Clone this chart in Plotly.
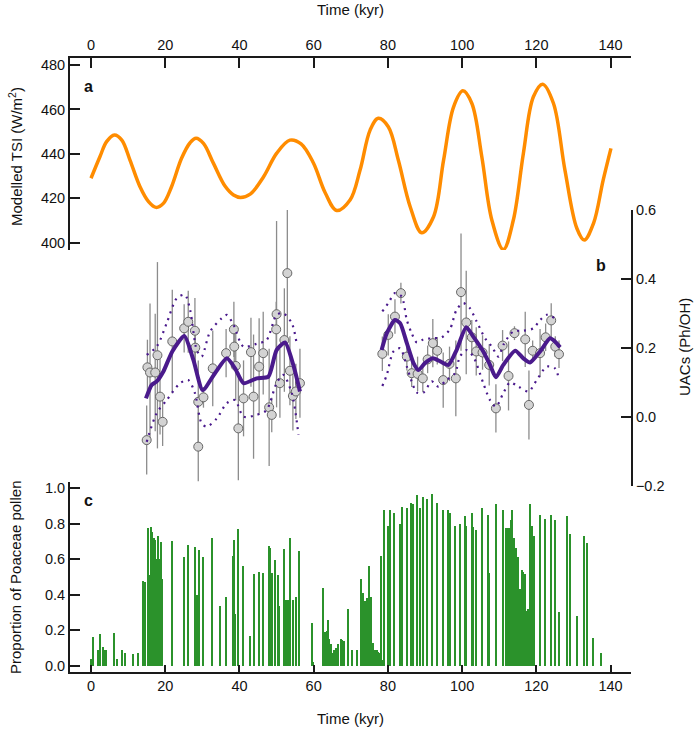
import plotly.graph_objects as go

# ---------------- data ----------------
tsi_age = [0, 2.4, 4.2, 6.3, 8.3, 10.5, 13.2, 15.5, 17.5, 19.5, 21.7, 24.4, 26.7, 28.3, 30.3,
           33.0, 36.1, 38.4, 40.3, 42.9, 46.5, 50.0, 53.6, 56.6, 59.9, 63.1, 66.2, 69.8, 72.5,
           75.2, 77.4, 80.1, 82.8, 86.0, 89.1, 92.3, 95.0, 97.7, 100.2, 102.6, 105.3, 108.0,
           111.1, 113.8, 116.5, 119.2, 121.7, 124.6, 127.7, 130.9, 132.9, 135.4, 138.0, 140.1]
tsi_val = [429.0, 438.7, 445.5, 448.5, 446.2, 437.2, 425.2, 418.5, 415.9, 417.7, 425.2, 438.0,
           445.0, 447.0, 444.7, 435.7, 425.5, 421.5, 420.4, 421.9, 429.7, 440.2, 446.2, 444.5,
           436.0, 422.5, 414.5, 419.2, 432.7, 450.7, 456.0, 452.2, 437.2, 416.2, 404.5, 411.7,
           437.2, 461.2, 468.4, 462.8, 438.7, 410.2, 396.9, 410.2, 440.2, 465.7, 471.4, 462.8,
           432.7, 406.5, 401.2, 408.7, 428.2, 442.5]

uac_age = [15.0, 15.2, 15.9, 17.3, 17.9, 18.6, 19.3, 21.9, 25.1, 26.2, 28.0, 28.1, 28.9, 28.9,
           30.3, 32.8, 36.4, 38.5, 38.6, 39.0, 39.7, 41.1, 43.1, 43.8, 45.3, 46.4, 48.0, 48.7,
           49.9, 50.0, 50.9, 52.1, 52.9, 53.6, 54.4, 55.2, 56.3,
           78.5, 80.1, 81.9, 83.5, 85.1, 86.4, 88.0, 89.4, 90.7, 92.1, 93.3, 94.9, 96.6, 98.3,
           99.7, 101.1, 102.6, 103.8, 105.5, 107.3, 109.1, 110.9, 112.5, 114.1, 117.0, 118.0,
           119.0, 121.0, 122.5, 124.0, 125.1, 126.1]
uac_val = [-0.067, 0.144, 0.129, 0.129, 0.179, 0.059, -0.014, 0.219, 0.257, 0.276, 0.250, 0.201,
           0.044, -0.086, 0.057, 0.141, 0.185, 0.254, 0.204, 0.148, -0.033, 0.054, 0.188, 0.059,
           0.146, 0.185, 0.028, 0.006, 0.254, 0.298, 0.098, 0.223, 0.417, 0.134, 0.061, 0.074,
           0.098,
           0.183, 0.238, 0.291, 0.359, 0.175, 0.127, 0.125, 0.112, 0.167, 0.214, 0.192, 0.107,
           0.154, 0.112, 0.362, 0.274, 0.231, 0.190, 0.187, 0.151, 0.025, 0.207, 0.119, 0.243,
           0.225, 0.035, 0.192, 0.185, 0.231, 0.280, 0.204, 0.182]
uac_err = [0.10, 0.08, 0.20, 0.17, 0.27, 0.11, 0.07, 0.15, 0.07, 0.09, 0.095, 0.05, 0.12, 0.10,
           0.03, 0.11, 0.07, 0.08, 0.05, 0.10, 0.15, 0.11, 0.10, 0.18, 0.14, 0.12, 0.17, 0.05,
           0.08, 0.27, 0.10, 0.15, 0.21, 0.10, 0.10, 0.08, 0.10,
           0.05, 0.06, 0.05, 0.03, 0.04, 0.04, 0.05, 0.04, 0.04, 0.07, 0.04, 0.08, 0.05, 0.11,
           0.17, 0.15, 0.05, 0.07, 0.05, 0.06, 0.07, 0.045, 0.10, 0.02, 0.08, 0.10, 0.03, 0.07,
           0.04, 0.05, 0.03, 0.04]

smooth_age = [14.8, 16.35, 17.7, 19.5, 21.9, 25.15, 27.6, 30.1, 33.4, 36.6, 38.8, 41.1, 44.65,
              47.8, 50.0, 52.3, 54.5, 56.3, None,
              78.3, 79.7, 81.9, 83.3, 85.1, 86.9, 88.2, 90.0, 92.1, 94.1, 96.3, 98.5, 101.1,
              103.0, 105.7, 107.5, 109.1, 111.1, 114.3, 116.5, 118.3, 121.0, 123.7, 125.0, 126.4]
smooth_val = [0.054, 0.093, 0.103, 0.132, 0.190, 0.235, 0.165, 0.078, 0.127, 0.170, 0.141,
              0.098, 0.112, 0.117, 0.194, 0.216, 0.151, 0.074, None,
              0.194, 0.243, 0.281, 0.272, 0.214, 0.156, 0.136, 0.156, 0.170, 0.161, 0.151,
              0.194, 0.260, 0.233, 0.190, 0.151, 0.115, 0.151, 0.192, 0.170, 0.158, 0.190,
              0.228, 0.219, 0.202]

upper_age = [15.0, 17.7, 20.4, 23.1, 25.3, 26.7, 28.5, 29.8, 32.1, 35.2, 36.6, 38.4, 41.1, 44.6,
             47.3, 50.0, 51.8, 54.1, 55.4, None,
             78.5, 80.1, 81.9, 83.7, 85.1, 86.4, 87.8, 89.6, 91.8, 94.5, 96.7, 98.5, 100.3,
             102.1, 103.9, 106.2, 108.0, 109.8, 111.1, 113.8, 116.5, 119.2, 121.0, 122.8, 125.0]
upper_val = [0.180, 0.204, 0.272, 0.344, 0.354, 0.311, 0.194, 0.175, 0.248, 0.286, 0.296,
             0.267, 0.204, 0.212, 0.223, 0.296, 0.301, 0.272, 0.214, None,
             0.306, 0.330, 0.359, 0.349, 0.281, 0.243, 0.216, 0.225, 0.228, 0.231, 0.254,
             0.311, 0.330, 0.315, 0.277, 0.228, 0.204, 0.175, 0.209, 0.248, 0.250, 0.257,
             0.281, 0.296, 0.286]

lower_age = [15.0, 17.7, 20.4, 24.0, 26.2, 28.0, 29.8, 31.2, 33.9, 36.6, 38.8, 41.1, 44.6, 47.3,
             50.0, 51.8, 54.1, 55.9, None,
             78.5, 79.7, 81.5, 83.3, 85.1, 86.4, 87.8, 89.6, 91.8, 93.6, 95.8, 98.1, 99.4,
             101.2, 103.0, 105.7, 107.5, 109.1, 111.1, 112.9, 115.2, 117.9, 120.1, 122.8,
             125.0, 126.1]
lower_val = [-0.072, 0.011, 0.049, 0.098, 0.107, 0.069, -0.018, -0.028, -0.004, 0.040, 0.049,
             0.001, 0.006, 0.020, 0.098, 0.122, 0.069, -0.052, None,
             0.090, 0.122, 0.190, 0.199, 0.146, 0.103, 0.071, 0.071, 0.103, 0.088, 0.107,
             0.127, 0.175, 0.194, 0.175, 0.098, 0.049, 0.030, 0.069, 0.100, 0.088, 0.074,
             0.107, 0.146, 0.141, 0.109]

pollen_age = [0.0, 0.3, 0.7, 1.8, 2.6, 3.2, 3.6, 4.0, 6.2, 7.1, 8.3, 9.3, 11.4, 12.8, 14.1, 14.7,
              15.3, 15.6, 16.2, 16.6, 16.9, 17.0, 17.3, 17.5, 17.7, 17.9, 18.1, 18.3, 18.4, 18.8,
              19.3, 21.8, 25.1, 26.2, 28.0, 28.7, 29.1, 30.3, 32.7, 34.7, 36.4, 38.4, 38.6, 38.9,
              39.6, 40.9, 43.0, 43.9, 45.3, 46.5, 47.9, 48.2, 48.7, 49.6, 50.3, 50.8, 52.1, 52.6,
              52.9, 53.3, 53.6, 54.4, 55.4, 56.2, 59.6, 59.9, 62.6, 63.1, 63.5, 63.8, 64.2, 64.7,
              65.1, 65.6, 66.0, 66.7, 67.3, 67.7, 68.3, 69.4, 70.5, 71.6, 72.8, 73.4, 73.8, 74.3,
              74.9, 75.5, 76.1, 76.5, 77.0, 77.4, 77.9, 78.3, 78.6, 79.0, 80.1, 80.6, 81.7, 83.4,
              83.9, 85.2, 86.4, 86.7, 87.9, 88.7, 89.4, 90.6, 92.0, 93.4, 94.8, 96.3, 96.8, 98.1,
              99.6, 100.8, 101.1, 102.6, 103.0, 103.8, 105.3, 107.0, 107.3, 109.1, 111.0, 111.8,
              112.2, 112.7, 113.1, 113.5, 114.0, 114.5, 115.2, 115.6, 116.1, 116.5, 117.0, 117.4,
              117.9, 118.3, 118.8, 119.2, 119.5, 121.0, 122.5, 123.9, 125.1, 126.1, 128.2, 129.1,
              131.1, 132.9, 133.6, 135.4, 137.4]
pollen_prop = [0.035, 0.02, 0.16, 0.09, 0.18, 0.105, 0.09, 0.09, 0.185, 0.035, 0.09, 0.07, 0.065,
               0.07, 0.48, 0.47, 0.775, 0.51, 0.78, 0.755, 0.65, 0.72, 0.71, 0.58, 0.60, 0.55,
               0.73, 0.60, 0.43, 0.70, 0.49, 0.705, 0.615, 0.68, 0.67, 0.40, 0.655, 0.61, 0.72,
               0.335, 0.39, 0.62, 0.71, 0.29, 0.77, 0.56, 0.17, 0.515, 0.53, 0.525, 0.675, 0.665,
               0.525, 0.595, 0.51, 0.335, 0.66, 0.37, 0.37, 0.37, 0.72, 0.37, 0.39, 0.645, 0.24,
               0.02, 0.44, 0.19, 0.195, 0.26, 0.15, 0.125, 0.07, 0.09, 0.10, 0.12, 0.15, 0.145,
               0.14, 0.32, 0.09, 0.09, 0.49, 0.41, 0.365, 0.38, 0.56, 0.39, 0.13, 0.09, 0.09,
               0.075, 0.07, 0.62, 0.03, 0.88, 0.79, 0.88, 0.86, 0.80, 0.895, 0.89, 0.915, 0.91,
               0.96, 0.89, 0.95, 0.94, 0.97, 0.915, 0.88, 0.88, 0.86, 0.79, 0.80, 0.845, 0.79,
               0.86, 0.78, 0.765, 0.89, 0.85, 0.525, 0.91, 0.88, 0.775, 0.775, 0.775, 0.82, 0.88,
               0.72, 0.665, 0.61, 0.435, 0.54, 0.53, 0.515, 0.31, 0.32, 0.91, 0.79, 0.73, 0.73,
               0.85, 0.825, 0.85, 0.82, 0.305, 0.845, 0.74, 0.28, 0.73, 0.69, 0.155, 0.07]

time_ticks = [0, 20, 40, 60, 80, 100, 120, 140]
tsi_ticks = [400, 420, 440, 460, 480]
uac_ticks = [-0.2, 0.0, 0.2, 0.4, 0.6]
pollen_ticks = [0.0, 0.2, 0.4, 0.6, 0.8, 1.0]

# ---------------- figure ----------------
W, H = 697, 729
FONT = "Liberation Sans, Arial, Helvetica, sans-serif"
PURPLE = "#4a1a8c"

fig = go.Figure()

fig.add_trace(go.Bar(x=pollen_age, y=pollen_prop, xaxis="x", yaxis="y3", width=0.36,
                     marker=dict(color="#2b922b", line=dict(width=0)), showlegend=False))

fig.add_trace(go.Scatter(x=tsi_age, y=tsi_val, xaxis="x2", yaxis="y", mode="lines",
                         line=dict(color="#ff8c00", width=3.5, shape="spline", smoothing=1.0),
                         showlegend=False))

fig.add_trace(go.Scatter(x=uac_age, y=uac_val, xaxis="x", yaxis="y2", mode="markers",
                         cliponaxis=False,
                         error_y=dict(type="data", array=uac_err, visible=True, color="#8c8c8c",
                                      thickness=1.3, width=0),
                         marker=dict(size=9, color="#d3d3d3", line=dict(color="#666666", width=1)),
                         showlegend=False))

for xs, ys in [(upper_age, upper_val), (lower_age, lower_val)]:
    fig.add_trace(go.Scatter(x=xs, y=ys, xaxis="x", yaxis="y2", mode="lines",
                             connectgaps=False,
                             line=dict(color=PURPLE, width=2.2, dash="2px,5px", shape="spline",
                                       smoothing=0.8),
                             showlegend=False))

fig.add_trace(go.Scatter(x=smooth_age, y=smooth_val, xaxis="x", yaxis="y2", mode="lines",
                         connectgaps=False,
                         line=dict(color=PURPLE, width=4, shape="spline", smoothing=0.6),
                         showlegend=False))

def py(p):
    return 1 - p / H

x_dom = [70 / W, 631 / W]
x_rng = [-5.66, 145.5]
tickfont = dict(family=FONT, size=14.5, color="#111111")
axcol = "#1a1a1a"

fig.update_layout(
    width=W, height=H,
    margin=dict(l=0, r=0, t=0, b=0),
    paper_bgcolor="white", plot_bgcolor="rgba(0,0,0,0)",
    bargap=0,
    font=dict(family=FONT, size=14, color="#111111"),
    xaxis=dict(domain=x_dom, range=x_rng, anchor="y3", tickvals=time_ticks,
               ticks="inside", ticklen=7, tickwidth=2, tickcolor=axcol,
               showline=True, linecolor=axcol, linewidth=2, showgrid=False, zeroline=False,
               tickfont=tickfont, automargin=False),
    xaxis2=dict(domain=x_dom, range=x_rng, anchor="y", side="top", overlaying="x",
                matches="x", tickvals=time_ticks,
                ticks="inside", ticklen=10, tickwidth=2, tickcolor=axcol,
                showline=True, linecolor=axcol, linewidth=2, showgrid=False, zeroline=False,
                tickfont=tickfont, automargin=False),
    yaxis=dict(domain=[py(250), py(57.5)], range=[396.7, 483.4], anchor="x2",
               tickvals=tsi_ticks, ticks="inside", ticklen=10, tickwidth=2, tickcolor=axcol,
               showline=True, linecolor=axcol, linewidth=2, showgrid=False, zeroline=False,
               tickfont=tickfont, automargin=False),
    yaxis2=dict(domain=[py(486), py(210)], range=[-0.2, 0.6], anchor="x", side="right",
                tickvals=uac_ticks, tickformat=".1f",
                ticks="inside", ticklen=10, tickwidth=2, tickcolor=axcol,
                showline=True, linecolor=axcol, linewidth=2, showgrid=False, zeroline=False,
                tickfont=tickfont, automargin=False),
    yaxis3=dict(domain=[py(672), py(482)], range=[-0.0355, 1.0355], anchor="x",
                tickvals=pollen_ticks, tickformat=".1f",
                ticks="inside", ticklen=10, tickwidth=2, tickcolor=axcol,
                showline=True, linecolor=axcol, linewidth=2, showgrid=False, zeroline=False,
                tickfont=tickfont, automargin=False),
)

def ann(text, x, y, angle=0, size=15, bold=False):
    fig.add_annotation(text=("<b>%s</b>" % text) if bold else text,
                       x=x / W, y=py(y), xref="paper", yref="paper",
                       showarrow=False, textangle=angle,
                       font=dict(family=FONT, size=size, color="#111111"),
                       xanchor="center", yanchor="middle")

ann("Time (kyr)", 350.5, 9)
ann("Time (kyr)", 350.5, 718)
ann("Modelled TSI (W/m<sup>2</sup>)", 15, 157, angle=-90)
ann("Proportion of Poaceae pollen", 15, 578, angle=-90)
ann("UACs (Ph/OH)", 684, 347, angle=-90)
ann("a", 88, 86, size=16, bold=True)
ann("b", 601, 265, size=16, bold=True)
ann("c", 88, 500, size=16, bold=True)

fig.write_html("out.html", config={"displayModeBar": False},
               post_script="document.body.style.margin='0px';document.body.style.overflow='hidden';")
